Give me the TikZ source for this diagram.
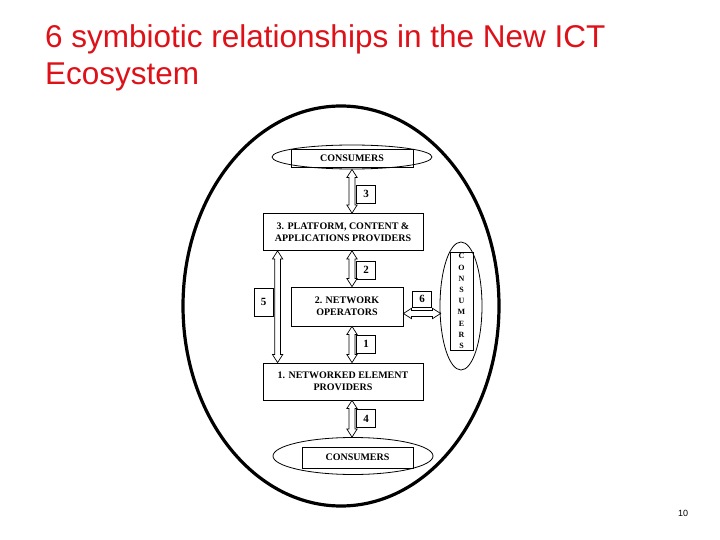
\documentclass[tikz,border=0pt]{standalone}
\usepackage{fontspec}
\setmainfont{Liberation Serif}
\newfontfamily\titlefont{Liberation Sans}
\usetikzlibrary{shapes.geometric,shapes.arrows,calc}
\definecolor{titlered}{RGB}{222,16,24}
\newcommand\dblarr[2]{\path let \p1=(#1), \p2=(#2), \n1={veclen(\x2-\x1,\y2-\y1)}, \n2={atan2(\y2-\y1,\x2-\x1)} in node[darrow, minimum height=\n1, rotate=\n2] at ($(\p1)!0.5!(\p2)$) {};}
\begin{document}
\begin{tikzpicture}[x=1pt,y=-1pt,
  boxn/.style={draw, line width=0.8pt, inner sep=0pt, align=center, font=\bfseries\fontsize{10}{12}\selectfont},
  ell/.style={draw, ellipse, line width=0.8pt, inner sep=0pt},
  numbox/.style={draw, line width=0.8pt, inner sep=0pt, font=\bfseries\fontsize{11}{12}\selectfont},
  darrow/.style={draw, double arrow, fill=white, line width=0.7pt, inner xsep=0pt, inner ysep=2.6pt, minimum width=0pt, double arrow head extend=2.2pt, double arrow tip angle=65},
]
\useasboundingbox[fill=white] (0,0) rectangle (720,540);
% title
\node[anchor=north west, inner sep=0pt, align=left, text=titlered, font=\titlefont\fontsize{31.5}{37}\selectfont] (title) at (45,24) {6 symbiotic relationships in the New ICT\\Ecosystem};
% outer ecosystem ellipse
\node[ell, line width=3.2pt, minimum width=316pt, minimum height=400pt] (eco) at (341,306) {};
% top consumers
\node[ell, minimum width=160pt, minimum height=24pt] (ctope) at (352,157) {};
\node[boxn, minimum width=122pt, minimum height=18pt] (ctop) at (352,158) {CONSUMERS};
% platform box
\node[boxn, minimum width=160pt, minimum height=37pt] (p3) at (343,232) {3. PLATFORM, CONTENT \&\\APPLICATIONS PROVIDERS};
% network operators
\node[boxn, minimum width=112pt, minimum height=39pt] (net) at (347,306.5) {2. NETWORK\\OPERATORS};
% networked element providers
\node[boxn, minimum width=160pt, minimum height=37pt] (p1) at (343,381.5) {1. NETWORKED ELEMENT\\PROVIDERS};
% bottom consumers
\node[ell, minimum width=160pt, minimum height=37pt] (cbote) at (353,456) {};
\node[boxn, minimum width=111pt, minimum height=21pt] (cbot) at (357.5,457.5) {CONSUMERS};
% right consumers
\node[ell, minimum width=42pt, minimum height=128pt] (crighte) at (461,306) {};
\node[boxn, minimum width=23pt, minimum height=98pt, font=\bfseries\fontsize{8}{11.2}\selectfont] (cright) at (461.5,301) {C\\O\\N\\S\\U\\M\\E\\R\\S};
% arrows
\coordinate (a3s) at (ctope.south);
\coordinate (a3e) at (p3.north -| ctope.south);
\dblarr{a3s}{a3e}
\coordinate (a2s) at (p3.south -| ctope.south);
\coordinate (a2e) at (net.north -| ctope.south);
\dblarr{a2s}{a2e}
\coordinate (a1s) at (net.south -| ctope.south);
\coordinate (a1e) at (p1.north -| ctope.south);
\dblarr{a1s}{a1e}
\coordinate (a4s) at (p1.south -| ctope.south);
\coordinate (a4e) at (cbote.north -| ctope.south);
\dblarr{a4s}{a4e}
\coordinate (a5s) at ($(p3.south west)+(15,0)$);
\coordinate (a5e) at ($(p1.north west)+(15,0)$);
\dblarr{a5s}{a5e}
\coordinate (a6s) at ($(net.east)+(0,7)$);
\coordinate (a6e) at ($(a6s -| crighte.west)+(1,0)$);
\dblarr{a6s}{a6e}
% number labels
\node[numbox, minimum width=19pt, minimum height=18pt] (n3) at (366,194) {3};
\node[numbox, minimum width=19pt, minimum height=18pt] (n2) at (366,270) {2};
\node[numbox, minimum width=19pt, minimum height=18pt] (n1) at (366,344) {1};
\node[numbox, minimum width=19pt, minimum height=18pt] (n4) at (366,418.5) {4};
\node[numbox, minimum width=19pt, minimum height=28pt] (n5) at (263.5,302) {5};
\node[numbox, minimum width=19pt, minimum height=16pt] (n6) at (422,299) {6};
% page number
\node[inner sep=0pt, font=\titlefont\fontsize{9}{11}\selectfont] (page) at (683,513) {10};
\end{tikzpicture}
\end{document}
